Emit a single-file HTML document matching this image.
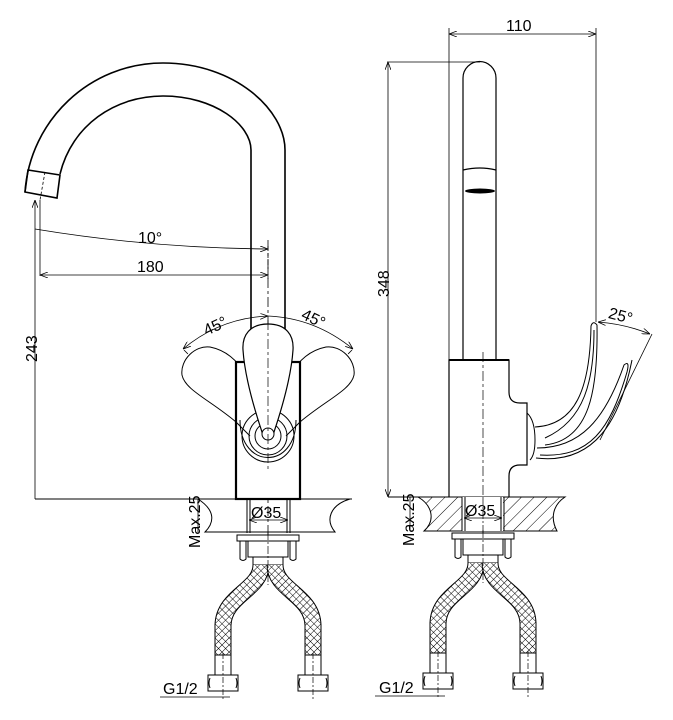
<!DOCTYPE html>
<html><head><meta charset="utf-8"><style>
html,body{margin:0;padding:0;background:#fff;}
svg{display:block;}
text{font-family:"Liberation Sans",sans-serif;fill:#000;}
</style></head><body>
<svg width="673" height="720" viewBox="0 0 673 720" xmlns="http://www.w3.org/2000/svg">
<defs>
<pattern id="xh" width="5" height="5" patternUnits="userSpaceOnUse" patternTransform="rotate(45)">
<rect width="5" height="5" fill="#fff"/>
<line x1="0" y1="0" x2="0" y2="5" stroke="#000" stroke-width="1"/>
<line x1="0" y1="0" x2="5" y2="0" stroke="#000" stroke-width="1"/>
</pattern>
<pattern id="hatch" width="9" height="9" patternUnits="userSpaceOnUse" patternTransform="rotate(45)">
<rect width="9" height="9" fill="#fff"/>
<line x1="0" y1="0" x2="0" y2="9" stroke="#000" stroke-width="1"/>
</pattern>
<marker id="ar" markerWidth="8" markerHeight="6" refX="8" refY="3" orient="auto-start-reverse" markerUnits="userSpaceOnUse">
<path d="M0,0 L8,3 L0,6" fill="none" stroke="#000" stroke-width="0.8"/>
</marker>
<g id="under" fill="#fff" stroke="#000" stroke-width="1">
<rect x="-31" y="0" width="62" height="6"/>
<rect x="-20" y="6" width="40" height="16"/>
<path d="M-28,6 h6 v18 q-3,3 -6,0 z"/>
<path d="M22,6 h6 v18 q-3,3 -6,0 z"/>
<rect x="-15" y="22" width="30" height="8"/>
<g fill="none">
<path d="M-7,30 C-7,55 -44,60 -45,90 L-45,122" stroke="#000" stroke-width="17"/>
<path d="M-7,30 C-7,55 -44,60 -45,90 L-45,122" stroke="url(#xh)" stroke-width="15"/>
<path d="M7,30 C7,55 44,60 45,90 L45,122" stroke="#000" stroke-width="17"/>
<path d="M7,30 C7,55 44,60 45,90 L45,122" stroke="url(#xh)" stroke-width="15"/>
</g>
<rect x="-53" y="120" width="16" height="20"/>
<rect x="37" y="120" width="16" height="20"/>
<path d="M-60,140 h30 v16 h-30 z"/>
<path d="M-58,143 q-2,5 0,10 M-32,143 q2,5 0,10"/>
<path d="M30,140 h30 v16 h-30 z"/>
<path d="M32,143 q-2,5 0,10 M58,143 q2,5 0,10"/>
<line x1="0" y1="-3" x2="0" y2="50" stroke-dasharray="8,2,2,2" stroke-width="0.7"/>
<line x1="-45" y1="118" x2="-45" y2="165" stroke-dasharray="6,2,2,2" stroke-width="0.7"/>
<line x1="45" y1="118" x2="45" y2="165" stroke-dasharray="6,2,2,2" stroke-width="0.7"/>
</g>
</defs>

<g fill="none" stroke="#000" stroke-width="1.6">
<path d="M25,192 C30,120 90,63 163,63 C235,63 285,110 285,150 L285,362"/>
<path d="M60,174 C72,125 115,96 163,96 C215,96 251,125 251,150 L251,362"/>
<path d="M28,170 L60,175 L57,198 L25,192 Z"/>
</g>
<g fill="none" stroke="#000" stroke-width="0.8">
<line x1="45" y1="172" x2="40" y2="200" stroke-dasharray="3,2"/>
<path d="M35,229 Q150,248 268,249" marker-end="url(#ar)"/>
<line x1="35" y1="200" x2="35" y2="499" marker-start="url(#ar)"/>
<line x1="40" y1="200" x2="40" y2="276"/>
<line x1="268" y1="246" x2="268" y2="280" stroke-dasharray="5,2"/>
<line x1="40" y1="275" x2="268" y2="275" marker-start="url(#ar)" marker-end="url(#ar)"/>
<path d="M183,349 Q220,318 268,316" marker-start="url(#ar)" marker-end="url(#ar)"/>
<path d="M268,316 Q315,318 353,349" marker-end="url(#ar)"/>
<line x1="268" y1="435" x2="184" y2="350" stroke-dasharray="10,3,3,3"/>
<line x1="268" y1="435" x2="352" y2="350" stroke-dasharray="10,3,3,3"/>
<line x1="268" y1="240" x2="268" y2="560" stroke-dasharray="10,3,3,3"/>
</g>
<text x="138" y="243" font-size="16">10°</text>
<text x="137" y="272" font-size="16">180</text>
<text x="203" y="330" font-size="16" transform="rotate(-25 218 325)">45°</text>
<text x="301" y="325" font-size="16" transform="rotate(25 316 320)">45°</text>
<text x="0" y="0" font-size="16" transform="translate(37,362) rotate(-90)">243</text>

<g fill="#fff" stroke="#000" stroke-width="1">
<path d="M236,422 C210,400 185,390 182,375 C180,360 195,345 210,347 C225,350 238,360 245,375"/>
<path d="M300,422 C326,400 351,390 354,375 C356,360 341,345 326,347 C311,350 298,360 291,375"/>
</g>
<rect x="236" y="362" width="64" height="137" fill="#fff" stroke="#000" stroke-width="2.2"/>
<g fill="none" stroke="#000" stroke-width="1">
<path d="M240,420 C240,470 296,470 296,420"/>
<circle cx="268" cy="436" r="26"/>
<circle cx="268" cy="436" r="19"/>
<circle cx="268" cy="436" r="13"/>
<path d="M236,422 L250,436 M300,422 L286,436"/>
</g>
<path d="M268,324 C250,324 242,335 243,350 C245,380 258,420 262,432 A6,6 0 0 0 274,432 C278,420 291,380 293,350 C294,335 286,324 268,324 Z" fill="#fff" stroke="#000" stroke-width="1.2"/>
<circle cx="268" cy="434" r="6" fill="#fff" stroke="#000"/>
<line x1="268" y1="320" x2="268" y2="470" stroke="#000" stroke-width="0.7" stroke-dasharray="10,3,3,3"/>

<g fill="none" stroke="#000" stroke-width="1">
<line x1="35" y1="499" x2="352" y2="499"/>
<path d="M198,499 C215,510 215,522 205,532 L335,532 C325,520 330,505 350,499"/>
<line x1="247" y1="499" x2="247" y2="533"/><line x1="250" y1="499" x2="250" y2="533"/>
<line x1="287" y1="499" x2="287" y2="533"/><line x1="290" y1="499" x2="290" y2="533"/>
<line x1="249" y1="520" x2="288" y2="520" marker-start="url(#ar)" marker-end="url(#ar)" stroke-width="0.8"/>
<line x1="198" y1="499" x2="198" y2="532" stroke-width="0.8"/>
</g>
<text x="251" y="518" font-size="16">Ø35</text>
<text font-size="16" transform="translate(200,548) rotate(-90)">Max.25</text>
<use href="#under" x="268" y="535"/>
<line x1="160" y1="697" x2="230" y2="697" stroke="#000" stroke-width="0.8"/>
<text x="163" y="694" font-size="16">G1/2</text>

<g fill="none" stroke="#000" stroke-width="0.8">
<line x1="449" y1="34" x2="596" y2="34" marker-start="url(#ar)" marker-end="url(#ar)"/>
<line x1="449" y1="28" x2="449" y2="360"/>
<line x1="596" y1="28" x2="596" y2="322"/>
<line x1="387" y1="62" x2="480" y2="62"/>
<line x1="388" y1="62" x2="388" y2="497" marker-start="url(#ar)" marker-end="url(#ar)"/>
</g>
<text x="506" y="31" font-size="16">110</text>
<text font-size="16" transform="translate(389,297) rotate(-90)">348</text>
<path d="M463,360 L463,78 A16.5,16.5 0 0 1 496,78 L496,360" fill="none" stroke="#000" stroke-width="1.2"/>
<path d="M463,170 Q480,166 496,170" fill="none" stroke="#000" stroke-width="1.2"/>
<ellipse cx="480" cy="191" rx="15" ry="2.5" fill="#000"/>
<path d="M449,497 L449,360 L509,360 L509,392 Q509,403 520,403 L527,403 L527,465 L520,465 Q509,465 509,476 L509,497" fill="none" stroke="#000" stroke-width="1.2"/>
<line x1="449" y1="360" x2="509" y2="360" stroke="#000" stroke-width="2"/>
<line x1="483" y1="352" x2="483" y2="560" stroke="#000" stroke-width="0.7" stroke-dasharray="10,3,3,3"/>
<g fill="none" stroke="#000" stroke-width="1">
<path d="M527,413 Q535,420 535,440 Q535,455 530,460"/>
<path d="M535,427 C575,425 590,390 591,326 Q593,320 597,325 C598,390 590,440 545,445"/>
<path d="M537,448 C580,448 605,420 624,365 Q630,360 627,372 C610,430 590,458 540,455"/>
<path d="M536,458 C595,465 620,420 632,360"/>
<path d="M594,330 C594,380 585,420 545,438"/>
<path d="M598,322 Q625,324 650,334" stroke-width="0.8" marker-start="url(#ar)" marker-end="url(#ar)"/>
<line x1="652" y1="334" x2="600" y2="440" stroke-width="0.8"/>
</g>
<text x="608" y="322" font-size="16" transform="rotate(15 624 318)">25°</text>
<path d="M418,497 L565,497 C553,505 550,518 557,531 L424,531 C436,520 432,505 418,497 Z" fill="url(#hatch)" stroke="#000" stroke-width="1"/>
<rect x="462" y="497" width="41" height="34" fill="#fff" stroke="none"/>
<g stroke="#000" stroke-width="1" fill="none">
<line x1="462" y1="497" x2="462" y2="531"/><line x1="465" y1="497" x2="465" y2="531"/>
<line x1="501" y1="497" x2="501" y2="531"/><line x1="504" y1="497" x2="504" y2="531"/>
<line x1="464" y1="518" x2="502" y2="518" marker-start="url(#ar)" marker-end="url(#ar)" stroke-width="0.8"/>
<line x1="388" y1="497" x2="420" y2="497"/>
<line x1="410" y1="497" x2="410" y2="531" stroke-width="0.8"/>
</g>
<line x1="483" y1="497" x2="483" y2="531" stroke="#000" stroke-width="0.7" stroke-dasharray="8,2,2,2"/>
<text x="465" y="516" font-size="16">Ø35</text>
<text font-size="16" transform="translate(414,546) rotate(-90)">Max.25</text>
<use href="#under" x="483" y="533"/>
<line x1="375" y1="696" x2="445" y2="696" stroke="#000" stroke-width="0.8"/>
<text x="379" y="693" font-size="16">G1/2</text>
</svg>
</body></html>
